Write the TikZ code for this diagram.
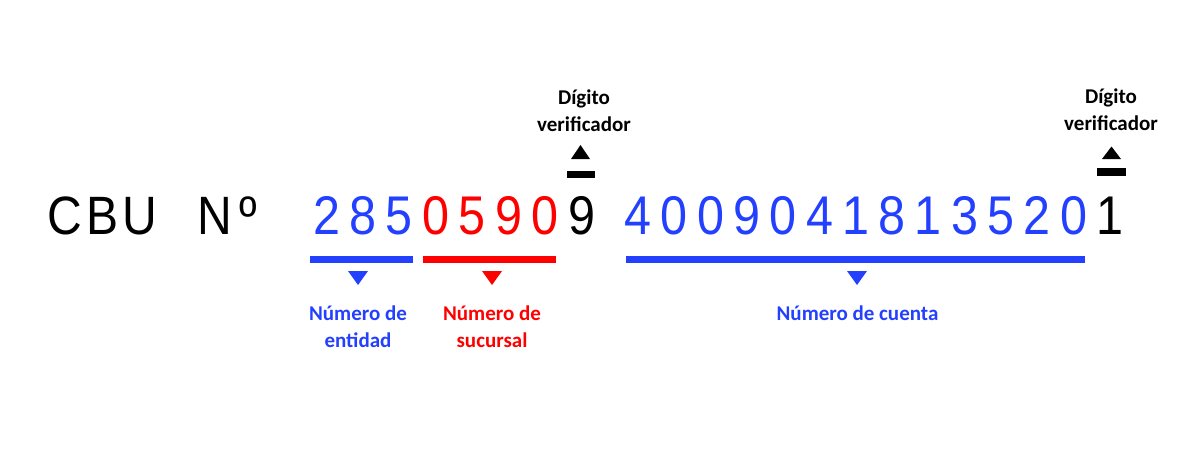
\documentclass[tikz,border=0pt]{standalone}
\usepackage{fontspec}
\setmainfont{Liberation Sans}
\newfontfamily\calib{Carlito}
\usepackage{graphicx}
\usepackage{xcolor}
\definecolor{cbublue}{RGB}{36,64,255}
\definecolor{cbured}{RGB}{255,0,0}
\usetikzlibrary{positioning}
\newcommand{\narrow}[1]{\scalebox{0.89}[1]{#1}}

\begin{document}
\begin{tikzpicture}[x=1pt,y=-1pt,
  digit/.style={anchor=base,inner sep=0pt,font=\fontsize{54.5}{60}\selectfont},
  lbl/.style={align=center,inner sep=0pt,font=\calib\bfseries\fontsize{21}{27}\selectfont},
  bar/.style={line width=6.5pt}]

\useasboundingbox (0,0) rectangle (1200,450);

\node[digit,anchor=base west,font=\fontsize{54}{60}\selectfont\addfontfeature{LetterSpace=8}] (cbu) at (47.6,234) {\narrow{CBU}};
\node[digit,anchor=base west,font=\fontsize{54}{60}\selectfont\addfontfeature{LetterSpace=14}] (nro) at (197.6,234) {\narrow{Nº}};

% entidad, sucursal, digito
\foreach \d [count=\i from 0] in {2,8,5}
  \node[digit,text=cbublue] (ent\i) at (326.5+\i*36.4,234) {\narrow{\d}};
\foreach \d [count=\i from 3] in {0,5,9,0}
  \node[digit,text=cbured] (suc\i) at (326.5+\i*36.4,234) {\narrow{\d}};
\node[digit] (dv1) at (581.5,234) {\narrow{9}};

% cuenta, digito
\foreach \d [count=\i from 0] in {4,0,0,9,0,4,1,8,1,3,5,2,0}
  \node[digit,text=cbublue] (cta\i) at (638+\i*36.3,234) {\narrow{\d}};
\node[digit] (dv2) at (1110,234) {\narrow{1}};

\draw[bar,cbublue] (310,259.5) -- (413,259.5);
\draw[bar,cbured] (423,259.5) -- (556,259.5);
\draw[bar,cbublue] (626,259.5) -- (1085,259.5);
\draw[bar,line width=7pt] (567,174.5) -- (595,174.5);
\draw[bar,line width=7.5pt] (1097,172) -- (1126,172);

\fill[cbublue] (348,271) -- (368,271) -- (358,285) -- cycle;
\fill[cbured] (482,271) -- (502,271) -- (492,285) -- cycle;
\fill[cbublue] (847,271) -- (867,271) -- (857,285) -- cycle;
\fill (571,159) -- (590,159) -- (580.5,145) -- cycle;
\fill (1102,159) -- (1121,159) -- (1111.5,146.5) -- cycle;

\node[lbl,text=cbublue] (lent) at (358,327) {Número de\\entidad};
\node[lbl,text=cbured] (lsuc) at (492,327) {Número de\\sucursal};
\node[lbl,text=cbublue] (lcta) at (857.5,313) {Número de cuenta};
\node[lbl] (ldv1) at (584,111) {Dígito\\verificador};
\node[lbl] (ldv2) at (1111,110) {Dígito\\verificador};

\end{tikzpicture}
\end{document}
